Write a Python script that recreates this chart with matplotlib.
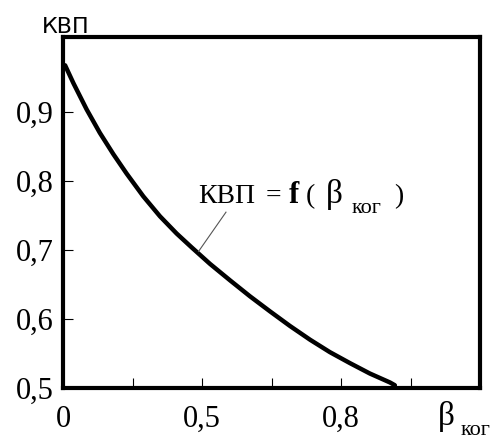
import matplotlib
matplotlib.use("Agg")
import matplotlib.pyplot as plt

# значения
beta = [0.006, 0.030, 0.068, 0.106, 0.145, 0.183, 0.231, 0.279, 0.327, 0.370,
        0.423, 0.481, 0.538, 0.596, 0.653, 0.711, 0.768, 0.826, 0.883, 0.941,
        0.955]
kvp = [0.968, 0.942, 0.904, 0.870, 0.839, 0.811, 0.778, 0.749, 0.724, 0.704,
       0.680, 0.656, 0.633, 0.611, 0.590, 0.570, 0.552, 0.536, 0.521, 0.508,
       0.504]

x_ticks = [0.0, 0.2, 0.4, 0.6, 0.8, 1.0]
x_labels = ["0", "", "0,5", "", "0,8", ""]
y_ticks = [0.5, 0.6, 0.7, 0.8, 0.9]
y_labels = ["0,5", "0,6", "0,7", "0,8", "0,9"]

W, H = 500, 441
fig = plt.figure(figsize=(W / 100, H / 100), dpi=100)
ax = fig.add_axes([63 / W, 1 - 388 / H, (480 - 63) / W, (388 - 37) / H])

serif = "Liberation Serif"

ax.plot(beta, kvp, color="black", lw=3.2, solid_capstyle="round")
ax.set_xlim(0, 1.2)
ax.set_ylim(0.5, 1.009)

ax.set_xticks(x_ticks)
ax.set_xticklabels(x_labels, fontfamily=serif, fontsize=22)
ax.set_yticks(y_ticks)
ax.set_yticklabels(y_labels, fontfamily=serif, fontsize=22)
ax.tick_params(direction="in", length=7, width=0.8, color="black")
ax.tick_params(axis="x", pad=12)
ax.tick_params(axis="y", pad=7)
for s in ax.spines.values():
    s.set_linewidth(3)

# выноска
ax.plot([0.390, 0.469], [0.698, 0.755], color="#555555", lw=0.8)

def px(x, y, s, size, **kw):
    fig.text(x / W, 1 - y / H, s, fontsize=size, ha="left", va="baseline",
             fontfamily=serif, **kw)

px(198, 203, "КВП", 20)
px(266, 203, "=", 20)
px(289, 203, "f", 22, fontweight="bold")
px(306, 203, "(", 20)
px(326, 203, "β", 24)
px(352, 213, "ког", 16)
px(394, 203, ")", 20)

# подписи осей
fig.text(42 / W, 1 - 33 / H, "КВП", fontsize=16, ha="left", va="baseline",
         fontfamily="DejaVu Sans")
px(438, 425, "β", 24)
px(461, 435, "ког", 16)

fig.savefig("out.png", dpi=100)
